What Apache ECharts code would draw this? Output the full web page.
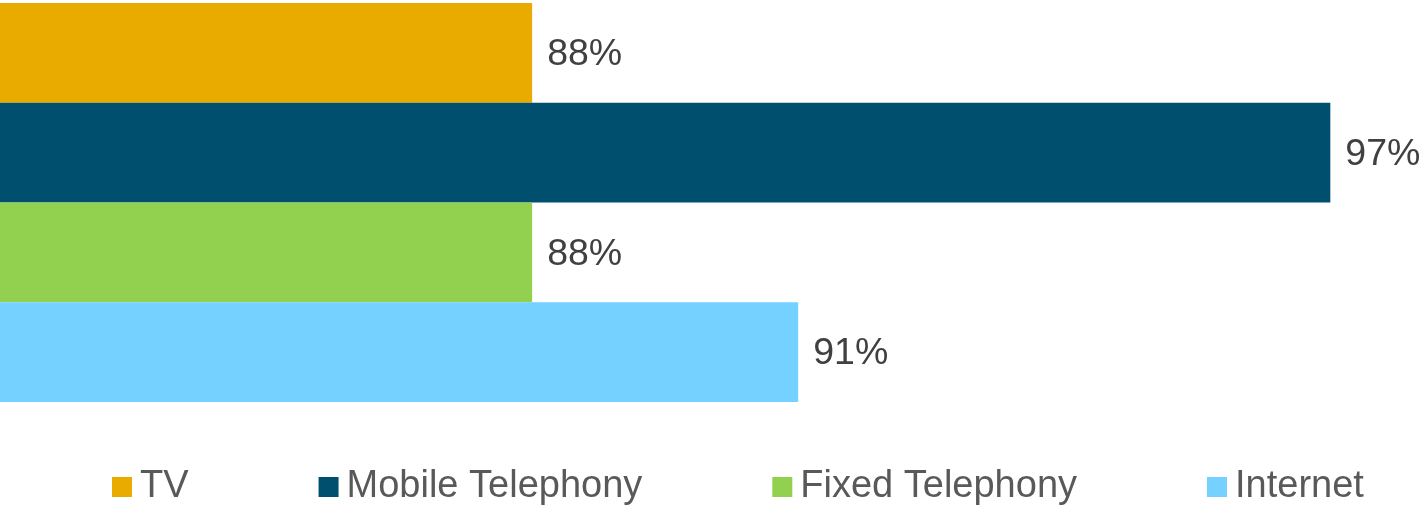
<!DOCTYPE html>
<html>
<head>
<meta charset="utf-8">
<script src="https://cdn.jsdelivr.net/npm/echarts@6/dist/echarts.min.js"></script>
<style>
  html, body { margin: 0; padding: 0; background: #ffffff; }
  #chart { width: 1419px; height: 505px; }
</style>
</head>
<body>
<div id="chart"></div>
<script>
// Service penetration shares (%)
const services = ['TV', 'Mobile Telephony', 'Fixed Telephony', 'Internet'];
const shares = [88, 97, 88, 91];
const colors = ['#EAAB00', '#004F6E', '#92D050', '#75D1FF'];

const chart = echarts.init(document.getElementById('chart'), null, { renderer: 'canvas' });

const series = services.map((name, i) => ({
  name: name,
  type: 'bar',
  data: [shares[i]],
  barGap: '0%',
  barCategoryGap: '0%',
  itemStyle: { color: colors[i] },
  label: {
    show: true,
    position: 'right',
    distance: 15,
    offset: [0, 2],
    formatter: '{c}%',
    color: '#404040',
    fontFamily: 'Liberation Sans, Arial, sans-serif',
    fontSize: 37.5
  }
}));

chart.setOption({
  animation: false,
  backgroundColor: '#ffffff',
  grid: { left: 0, right: 0, top: 3, height: 399, containLabel: false },
  xAxis: {
    type: 'value',
    min: 82,
    max: 98,
    show: false
  },
  yAxis: {
    type: 'category',
    data: [''],
    inverse: true,
    show: false
  },
  legend: {
    left: 112,
    top: 466,
    padding: 0,
    itemWidth: 20,
    itemHeight: 20,
    itemGap: 130,
    icon: 'rect',
    textStyle: {
      color: '#595959',
      fontFamily: 'Liberation Sans, Arial, sans-serif',
      fontSize: 38,
      lineHeight: 40,
      padding: [2, 0, 0, 3]
    },
    data: services
  },
  series: series
});
</script>
</body>
</html>
